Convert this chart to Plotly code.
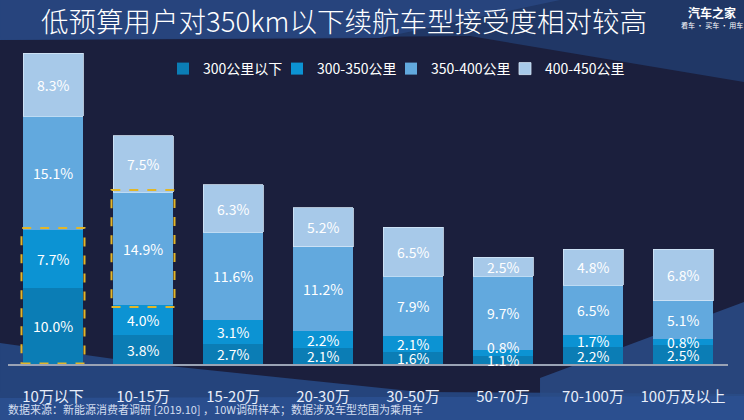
import plotly.graph_objects as go

categories = ["10万以下", "10-15万", "15-20万", "20-30万", "30-50万", "50-70万", "70-100万", "100万及以上"]
series_names = ["300公里以下", "300-350公里", "350-400公里", "400-450公里"]
below_300 = [10.0, 3.8, 2.7, 2.1, 1.6, 1.1, 2.2, 2.5]
r300_350 = [7.7, 4.0, 3.1, 2.2, 2.1, 0.8, 1.7, 0.8]
r350_400 = [15.1, 14.9, 11.6, 11.2, 7.9, 9.7, 6.5, 5.1]
r400_450 = [8.3, 7.5, 6.3, 5.2, 6.5, 2.5, 4.8, 6.8]
series_values = [below_300, r300_350, r350_400, r400_450]
colors = ["#0b7db5", "#0c93d3", "#62a9de", "#a7c9e9"]

title_text = "低预算用户对350km以下续航车型接受度相对较高"
source_text = "数据来源：新能源消费者调研 [2019.10] ，10W调研样本；数据涉及车型范围为乘用车"

W, H = 744, 420
ML, MR, MT, MB = 8, 16, 45, 56
PW, PH = W - ML - MR, H - MT - MB
PX_PER_UNIT = 7.56
FONT = "Noto Sans CJK SC"


def px(x):
    return (x - ML) / PW


def py(y):
    return (H - MB - y) / PH


def poly(points, color, opacity=1.0):
    d = "M " + " L ".join(f"{px(x):.4f},{py(y):.4f}" for x, y in points) + " Z"
    return dict(type="path", xref="paper", yref="paper", path=d,
                fillcolor=color, line=dict(width=0), layer="below", opacity=opacity)


legend_ids = ["legend", "legend2", "legend3", "legend4"]

fig = go.Figure()
for n, (name, vals, col) in enumerate(zip(series_names, series_values, colors)):
    line = dict(width=0)
    if n == len(series_names) - 1:
        line = dict(width=0.8, color="#d6e7f7")
    fig.add_trace(go.Bar(
        x=categories, y=vals, name=name,
        marker=dict(color=col, line=line),
        legend=legend_ids[n],
    ))

shapes = [
    poly([(0, 0), (744, 0), (744, 82), (470, 36), (0, 40)], "#203766"),
    poly([(0, 0), (560, 0), (380, 38), (0, 40)], "#284680", 0.9),
    poly([(0, 343), (150, 364), (420, 392), (744, 394), (744, 420), (0, 420)], "#25447c"),
    poly([(540, 378), (744, 302), (744, 420), (540, 420)], "#2a4c87", 0.85),
    poly([(0, 398), (744, 396), (744, 420), (0, 420)], "#2b5090", 0.9),
]


def stack_top(idx, n):
    return sum(series_values[k][idx] for k in range(n))


hw = 0.35
boxes = [(0, 0, stack_top(0, 2)), (1, stack_top(1, 2), stack_top(1, 3))]
for i, y0, y1 in boxes:
    shapes.append(dict(type="rect", xref="x", yref="y", x0=i - hw, x1=i + hw,
                       y0=max(y0 - 0.25, 0.05), y1=y1 + 0.3,
                       line=dict(color="#e2b628", width=2, dash="dash"),
                       fillcolor="rgba(0,0,0,0)", layer="above"))

annotations = []
# value labels: centred in each segment, pushed apart when segments are thin
min_gap = 13 / PX_PER_UNIT
for i, cat in enumerate(categories):
    prev = None
    for k in range(len(series_values)):
        base = stack_top(i, k)
        v = series_values[k][i]
        yc = base + v / 2
        if prev is not None and yc - prev < min_gap:
            yc = prev + min_gap
        prev = yc
        annotations.append(dict(text=f"{v:.1f}%", x=cat, y=yc, xref="x", yref="y",
                                showarrow=False, xanchor="center", yanchor="middle",
                                font=dict(color="white", size=14, family=FONT)))

annotations += [
    dict(text="<b>汽车之家</b>", xref="paper", yref="paper", x=px(712), y=py(12),
         showarrow=False, font=dict(color="white", size=12, family=FONT),
         xanchor="center", yanchor="middle"),
    dict(text="看车 · 买车 · 用车", xref="paper", yref="paper", x=px(712), y=py(25),
         showarrow=False, font=dict(color="white", size=7, family=FONT),
         xanchor="center", yanchor="middle"),
    dict(text=source_text, xref="paper", yref="paper", x=px(6), y=py(409),
         showarrow=False, font=dict(color="#d4def0", size=11, family=FONT),
         xanchor="left", yanchor="middle"),
]

legend_common = dict(orientation="h", yanchor="middle", xanchor="left",
                     font=dict(color="white", size=14, family=FONT),
                     bgcolor="rgba(0,0,0,0)", itemwidth=30)
legends = {lid: dict(x=px(163 + k * 114), y=py(69), **legend_common)
           for k, lid in enumerate(legend_ids)}

fig.update_layout(
    width=W, height=H,
    margin=dict(l=ML, r=MR, t=MT, b=MB, pad=0),
    paper_bgcolor="#1b1f3d", plot_bgcolor="rgba(0,0,0,0)",
    barmode="stack", bargap=1 / 3,
    title=dict(text=title_text, x=344 / W, xanchor="center", y=1 - 22 / H, yanchor="middle",
               font=dict(color="white", size=27.5, family=FONT, weight=300)),
    showlegend=True,
    shapes=shapes, annotations=annotations,
    font=dict(family=FONT, color="white"),
    **legends,
)
fig.update_xaxes(showline=True, linecolor="#9aa3b5", linewidth=2, showgrid=False,
                 ticks="", tickfont=dict(color="#e8eefa", size=15, family=FONT),
                 ticklabelstandoff=18, range=[-0.5, 7.5], zeroline=False)
fig.update_yaxes(range=[0, PH / PX_PER_UNIT], visible=False, showgrid=False, zeroline=False)

fig.write_html("out.html", config={"displayModeBar": False},
               post_script="document.body.style.margin='0px';")
